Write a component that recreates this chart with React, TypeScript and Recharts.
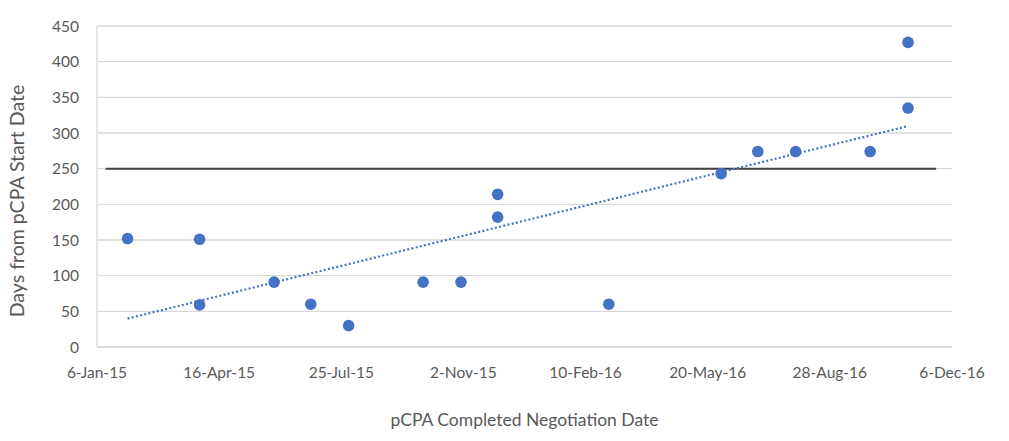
import React from 'react';
import {
  ScatterChart,
  Scatter,
  XAxis,
  YAxis,
  CartesianGrid,
  ReferenceLine,
  Label
} from 'recharts';

// Completed negotiation dates (month ends) and days from pCPA start
const completedDates = [
  '2015-01-31', '2015-03-31', '2015-03-31', '2015-05-31', '2015-06-30',
  '2015-07-31', '2015-09-30', '2015-10-31', '2015-11-30', '2015-11-30',
  '2016-02-29', '2016-05-31', '2016-06-30', '2016-07-31', '2016-09-30',
  '2016-10-31', '2016-10-31'
];
const daysFromStart = [
  152, 151, 59, 91, 60,
  30, 91, 91, 214, 182,
  60, 243, 274, 274, 274,
  427, 335
];

const xTickDates = [
  '2015-01-06', '2015-04-16', '2015-07-25', '2015-11-02',
  '2016-02-10', '2016-05-20', '2016-08-28', '2016-12-06'
];
const yTicks = [0, 50, 100, 150, 200, 250, 300, 350, 400, 450];

// target line at 250 days
const targetStart = '2015-01-13';
const targetEnd = '2016-11-23';
const targetDays = 250;

const MONTHS = ['Jan', 'Feb', 'Mar', 'Apr', 'May', 'Jun', 'Jul', 'Aug', 'Sep', 'Oct', 'Nov', 'Dec'];

const toTime = (iso: string): number => Date.parse(iso + 'T00:00:00Z');

const formatDate = (t: number): string => {
  const d = new Date(t);
  return `${d.getUTCDate()}-${MONTHS[d.getUTCMonth()]}-${String(d.getUTCFullYear()).slice(2)}`;
};

const points = completedDates.map((date, i) => ({ x: toTime(date), y: daysFromStart[i] }));

// linear trendline (least squares)
const n = points.length;
const meanX = points.reduce((s, p) => s + p.x, 0) / n;
const meanY = points.reduce((s, p) => s + p.y, 0) / n;
const slope =
  points.reduce((s, p) => s + (p.x - meanX) * (p.y - meanY), 0) /
  points.reduce((s, p) => s + (p.x - meanX) ** 2, 0);
const intercept = meanY - slope * meanX;
const xMin = Math.min(...points.map((p) => p.x));
const xMax = Math.max(...points.map((p) => p.x));
const trendSegment = [
  { x: xMin, y: intercept + slope * xMin },
  { x: xMax, y: intercept + slope * xMax }
];

const xTicks = xTickDates.map(toTime);
const FONT = 'Lato, "Open Sans", sans-serif';
const BLUE = '#4472C4';
const GREY_TEXT = '#595959';

// y axis title sits a bit below the plot's middle, as in the original
const YTitle = () => (
  <text
    x={24}
    y={201}
    transform="rotate(-90 24 201)"
    textAnchor="middle"
    fill={GREY_TEXT}
    fontSize={19.5}
    fontFamily={FONT}
  >
    Days from pCPA Start Date
  </text>
);

export default function App() {
  return (
    <div style={{ position: 'absolute', left: 0, top: 0, width: 1009, height: 441, background: '#fff', fontFamily: FONT }}>
      <ScatterChart width={1009} height={441} margin={{ top: 26, right: 57, bottom: 0, left: 0 }}>
        <CartesianGrid horizontal vertical={false} stroke="#d9d9d9" strokeWidth={1.3} />
        <XAxis
          type="number"
          dataKey="x"
          domain={[xTicks[0], xTicks[xTicks.length - 1]]}
          ticks={xTicks}
          tickFormatter={formatDate}
          tick={{ fill: GREY_TEXT, fontSize: 15.5, fontFamily: FONT }}
          tickLine={false}
          axisLine={{ stroke: '#d9d9d9', strokeWidth: 1.3 }}
          tickMargin={14}
          height={94}
        >
          <Label
            value="pCPA Completed Negotiation Date"
            position="insideBottom"
            offset={15}
            style={{ fill: GREY_TEXT, fontSize: 17.5, fontFamily: FONT }}
          />
        </XAxis>
        <YAxis
          type="number"
          dataKey="y"
          domain={[0, 450]}
          ticks={yTicks}
          tick={{ fill: GREY_TEXT, fontSize: 15.5, fontFamily: FONT }}
          tickLine={false}
          axisLine={{ stroke: '#d9d9d9', strokeWidth: 1.3 }}
          tickMargin={12}
          width={97}
        >
          <Label content={<YTitle />} />
        </YAxis>
        <ReferenceLine
          segment={[
            { x: toTime(targetStart), y: targetDays },
            { x: toTime(targetEnd), y: targetDays }
          ]}
          stroke="#404040"
          strokeWidth={2}
        />
        <ReferenceLine
          segment={trendSegment}
          stroke={BLUE}
          strokeWidth={2.2}
          strokeDasharray="2 2.3"
        />
        <Scatter
          data={points}
          fill={BLUE}
          isAnimationActive={false}
          shape={(props: any) => <circle cx={props.cx} cy={props.cy} r={5.8} fill={BLUE} />}
        />
      </ScatterChart>
    </div>
  );
}
